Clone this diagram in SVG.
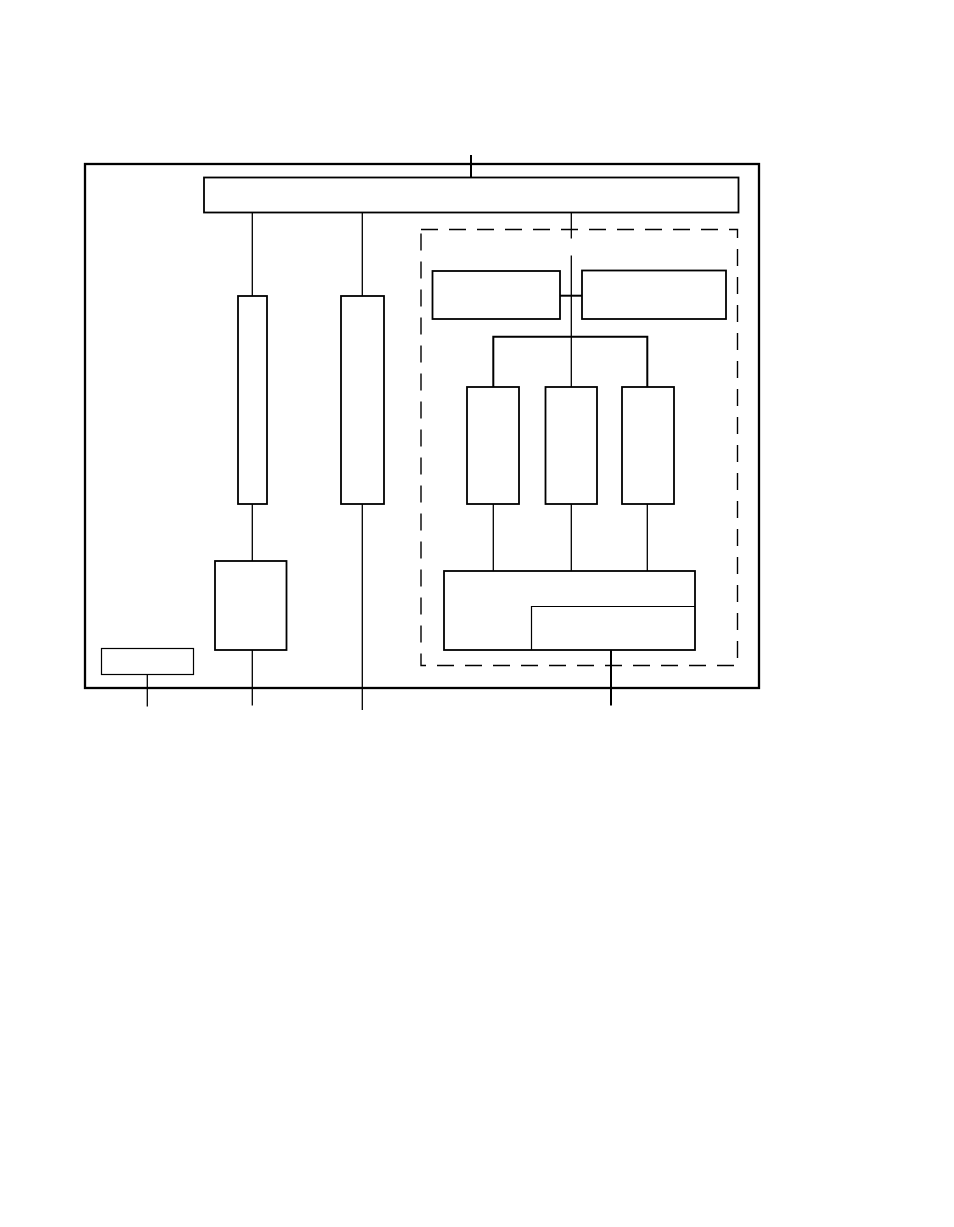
<svg xmlns="http://www.w3.org/2000/svg" width="954" height="1227" viewBox="0 0 954 1227">
<style>
.box{fill:none;stroke:#000;stroke-width:1.8}
.thin{fill:none;stroke:#000;stroke-width:1.2}
.outer{fill:none;stroke:#000;stroke-width:2.3}
.dash{fill:none;stroke:#000;stroke-width:1.4;stroke-dasharray:17 11}
.ln{fill:none;stroke:#000;stroke-width:1.3}
.lnb{fill:none;stroke:#000;stroke-width:2}
</style>
<rect width="954" height="1227" fill="#fff"/>
<g id="outer"><rect class="outer" x="85" y="164" width="674" height="524"/></g>
<g id="bus"><rect class="box" x="204" y="177.5" width="534.5" height="35"/></g>
<g id="group"><rect class="dash" x="421" y="229.5" width="316.5" height="436"/></g>
<g id="boxA"><rect class="box" x="432.5" y="271" width="127.5" height="48"/></g>
<g id="boxB"><rect class="box" x="582" y="270.5" width="144" height="48.5"/></g>
<g id="c1"><rect class="box" x="467" y="387" width="52" height="117"/></g>
<g id="c2"><rect class="box" x="545.5" y="387" width="51.5" height="117"/></g>
<g id="c3"><rect class="box" x="622" y="387" width="52" height="117"/></g>
<g id="bottom"><rect class="box" x="444" y="571" width="251" height="79"/><path class="thin" d="M531.5 650V606.5H695"/></g>
<g id="tall1"><rect class="box" x="238" y="296" width="29" height="208"/></g>
<g id="tall2"><rect class="box" x="341" y="296" width="43" height="208"/></g>
<g id="mid"><rect class="box" x="215" y="561" width="71.5" height="89"/></g>
<g id="small"><rect class="thin" x="101.5" y="648.5" width="92" height="26"/></g>
<g id="connectors">
<path class="lnb" d="M471 155V177.5"/>
<path class="ln" d="M252.3 212.5V296M252.3 504V561M252.3 650V705.5"/>
<path class="ln" d="M362.3 212.5V296M362.3 504V710"/>
<path class="ln" d="M571.3 212.5V238.5M571.3 255.5V387"/>
<path class="lnb" d="M560 295.7H582"/>
<path class="lnb" d="M493.3 387V336.7H647.3V387"/>
<path class="ln" d="M493.3 504V571M571.3 504V571M647.3 504V571"/>
<path class="lnb" d="M611 650V705.5"/>
<path class="ln" d="M147.3 674.5V706.5"/>
</g>
</svg>
